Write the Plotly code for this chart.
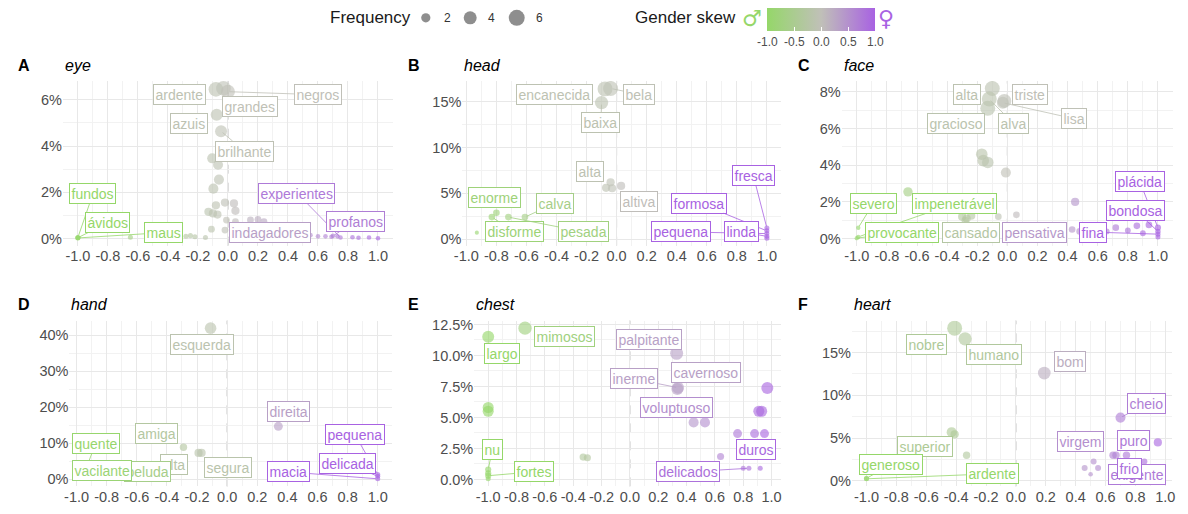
import numpy as np
import plotly.graph_objects as go
from plotly.colors import sample_colorscale

# ---------------- data ----------------
eye_word = ["ardente", "grandes", "negros", "azuis", "brilhante", "", "", "", "", "", "", "", "", "", "", "",
            "", "", "", "", "", "", "", "fundos", "ávidos", "maus", "", "", "", "", "", "", "", "", "", "",
            "experientes", "profanos", "", "", "", "", "indagadores", "", ""]
eye_skew = [-0.08, -0.03, 0.00, -0.075, -0.046, -0.105, -0.066, -0.06, -0.097, -0.02, 0.04, -0.08, 0.05, -0.13,
            -0.10, -0.07, -0.01, 0.05, 0.15, 0.20, 0.24, -0.11, -0.02, -1.0, -1.0, -1.0, -0.65, -0.28, -0.25,
            -0.22, -0.15, -0.45, 0.60, 0.65, 0.69, 0.73, 0.75, 0.70, 0.83, 0.87, 0.94, 1.0, 0.35, 0.10, 0.55]
eye_share = [6.45, 6.49, 6.35, 5.35, 4.64, 3.47, 3.19, 2.55, 2.16, 1.56, 1.52, 1.44, 1.20, 1.16, 1.09, 1.04,
             0.80, 0.73, 0.81, 0.83, 0.73, 0.41, 0.37, 0.05, 0.04, 0.03, 0.06, 0.10, 0.13, 0.08, 0.05, 0.04,
             0.10, 0.10, 0.08, 0.10, 0.05, 0.12, 0.06, 0.04, 0.05, 0.02, 0.25, 0.30, 0.15]
eye_freq = [5.1, 5.1, 4.6, 3.4, 3.4, 2.4, 2.4, 2.4, 2.4, 1.6, 1.6, 1.6, 1.6, 1.6, 1.6, 1.6,
            1.1, 1.1, 1.1, 1.1, 1.1, 1.1, 1.1, 0.6, 0.6, 0.6, 0.6, 0.6, 0.6, 0.6, 0.6, 0.6,
            0.5, 0.5, 0.5, 0.5, 0.5, 0.5, 0.5, 0.5, 0.5, 0.5, 0.8, 1.0, 0.5]

head_word = ["encanecida", "bela", "baixa", "", "alta", "altiva", "", "enorme", "disforme", "pesada", "calva", "",
             "fresca", "formosa", "pequena", "linda", ""]
head_skew = [-0.077, -0.04, -0.10, -0.04, -0.07, 0.03, -0.03, -0.80, -0.83, -0.72, -0.61, -0.93,
             1.0, 1.0, 1.0, 1.0, 1.0]
head_share = [16.40, 16.45, 14.9, 6.2, 5.6, 5.8, 5.55, 2.87, 2.4, 2.4, 2.4, 0.7, 1.2, 0.9, 0.6, 0.3, 0.1]
head_freq = [5.3, 5.3, 4.2, 1.6, 1.6, 1.6, 1.6, 1.05, 1.05, 1.05, 1.05, 0.4, 0.6, 0.6, 0.6, 0.6, 0.6]

face_word = ["alta", "alva", "triste", "gracioso", "lisa", "", "", "", "", "", "", "", "cansado", "", "", "", "",
             "severo", "impenetrável", "provocante", "pensativa", "", "", "", "", "", "", "plácida", "bondosa",
             "fina", "", ""]
face_skew = [-0.10, -0.12, -0.02, -0.13, -0.03, -0.17, -0.16, -0.13, -0.01, -0.66, 0.45, -0.30, -0.27, -0.24,
             -0.28, -0.06, 0.06, -0.99, -0.99, -1.0, 0.43, 0.48, 0.72, 0.80, 0.86, 0.90, 0.94, 1.0, 1.0, 1.0,
             1.0, 0.66]
face_share = [8.18, 7.6, 7.5, 7.1, 7.4, 4.6, 4.25, 4.15, 3.6, 2.55, 2.0, 1.2, 1.1, 1.25, 1.0, 1.2, 1.3,
              0.6, 0.1, 0.03, 0.5, 0.4, 0.6, 0.45, 0.7, 0.3, 0.75, 0.6, 0.4, 0.25, 0.1, 0.4]
face_freq = [5.3, 5.3, 4.6, 5.3, 3.4, 3.2, 3.2, 3.2, 2.4, 2.1, 1.6, 1.6, 1.6, 1.6, 1.3, 1.05, 1.05,
             0.45, 0.45, 0.45, 1.05, 1.05, 1.05, 0.8, 1.05, 0.8, 1.05, 0.9, 0.7, 0.6, 0.6, 0.8]

hand_word = ["esquerda", "amiga", "alta", "segura", "direita", "quente", "vacilante", "peluda",
             "pequena", "delicada", "macia"]
hand_skew = [-0.11, -0.29, -0.19, -0.17, 0.34, -0.95, -0.85, -0.60, 1.0, 1.0, 1.0]
hand_share = [42.0, 8.9, 7.3, 7.3, 14.7, 1.5, 0.8, 0.6, 1.3, 0.8, 0.1]
hand_freq = [3.2, 1.3, 1.6, 1.6, 1.9, 0.6, 0.6, 0.6, 0.6, 0.6, 0.6]

chest_word = ["mimosos", "largo", "", "", "nu", "", "fortes", "", "", "", "palpitante", "inerme", "cavernoso",
              "", "", "", "", "voluptuoso", "", "", "duros", "", "", "delicados", ""]
chest_skew = [-0.74, -1.0, -1.0, -1.0, -1.0, -1.0, -1.0, -1.0, -0.33, -0.30, 0.33, 0.34, 0.335, 0.97, 0.91,
              0.93, 0.45, 0.53, 0.76, 0.88, 0.95, 0.64, 0.80, 0.84, 0.92]
chest_share = [12.2, 11.5, 5.8, 5.5, 0.8, 0.5, 0.3, 0.05, 1.8, 1.75, 10.17, 7.4, 7.3, 7.37, 5.5, 5.5, 4.6, 4.6,
               3.7, 3.7, 3.7, 1.85, 0.9, 0.9, 0.9]
chest_freq = [4.2, 3.4, 2.9, 2.9, 0.9, 0.9, 0.9, 0.6, 1.2, 1.2, 4.0, 3.4, 3.4, 3.4, 2.9, 2.9, 2.4, 2.4,
              1.9, 1.9, 1.9, 1.2, 0.6, 0.6, 0.6]

heart_word = ["nobre", "humano", "", "bom", "cheio", "superior", "", "", "", "", "", "puro", "virgem", "", "", "",
              "frio", "exigente", "generoso", "ardente", ""]
heart_skew = [-0.41, -0.34, 0.0, 0.19, 0.70, -0.43, -0.41, -0.33, 0.95, 0.65, 0.67, 0.74, 0.52, 0.46, 0.50,
              0.55, 0.86, 0.75, -1.0, -1.0, 0.0]
heart_share = [17.85, 16.6, 14.8, 12.6, 7.4, 5.7, 5.45, 3.0, 4.5, 3.0, 3.0, 3.0, 2.27, 1.52, 0.78, 1.52, 2.27,
               2.0, 0.3, 0.25, 0.8]
heart_freq = [5.3, 4.2, 0.4, 3.8, 2.4, 2.4, 1.6, 1.3, 1.6, 1.3, 1.3, 1.3, 0.85, 0.85, 0.5, 0.85, 0.85,
              0.85, 0.6, 0.6, 0.4]

panel_titles = ["eye", "head", "face", "hand", "chest", "heart"]
panel_letters = ["A", "B", "C", "D", "E", "F"]
x_ticks = [-1.0, -0.8, -0.6, -0.4, -0.2, 0.0, 0.2, 0.4, 0.6, 0.8, 1.0]
y_ticks = {
    "eye": [0, 2, 4, 6], "head": [0, 5, 10, 15], "face": [0, 2, 4, 6, 8],
    "hand": [0, 10, 20, 30, 40], "chest": [0, 2.5, 5, 7.5, 10, 12.5], "heart": [0, 5, 10, 15],
}
y_tick_text = {
    "eye": ["0%", "2%", "4%", "6%"], "head": ["0%", "5%", "10%", "15%"],
    "face": ["0%", "2%", "4%", "6%", "8%"], "hand": ["0%", "10%", "20%", "30%", "40%"],
    "chest": ["0.0%", "2.5%", "5.0%", "7.5%", "10.0%", "12.5%"], "heart": ["0%", "5%", "10%", "15%"],
}
legend_freq = [2, 4, 6]

# ---------------- layout helpers (positions / styles) ----------------
W, H = 1188, 514
# label box centres in data units (skew, share); flag = draw connector segment
LABELS = {
    "eye": {"ardente": (-0.32, 6.22, 0), "negros": (0.60, 6.22, 1), "grandes": (0.15, 5.69, 0),
            "azuis": (-0.26, 4.98, 0), "brilhante": (0.11, 3.78, 1), "fundos": (-0.90, 1.93, 1),
            "ávidos": (-0.80, 0.69, 1), "maus": (-0.43, 0.26, 1), "experientes": (0.46, 1.97, 1),
            "profanos": (0.85, 0.73, 1), "indagadores": (0.28, 0.26, 0)},
    "head": {"encanecida": (-0.41, 15.8, 0), "bela": (0.15, 15.8, 1), "baixa": (-0.105, 12.7, 1),
             "alta": (-0.18, 7.37, 0), "altiva": (0.15, 4.13, 0), "enorme": (-0.81, 4.56, 0),
             "calva": (-0.41, 3.92, 1), "disforme": (-0.68, 0.79, 1), "pesada": (-0.22, 0.79, 1),
             "fresca": (0.91, 6.94, 1), "formosa": (0.55, 3.92, 1), "pequena": (0.43, 0.79, 1),
             "linda": (0.83, 0.79, 1)},
    "face": {"alta": (-0.27, 7.83, 0), "triste": (0.148, 7.83, 0), "lisa": (0.44, 6.54, 1),
             "gracioso": (-0.34, 6.27, 0), "alva": (0.04, 6.27, 1), "severo": (-0.89, 1.92, 1),
             "impenetrável": (-0.35, 1.92, 1), "provocante": (-0.70, 0.36, 1), "cansado": (-0.24, 0.36, 0),
             "pensativa": (0.18, 0.36, 0), "fina": (0.57, 0.36, 1), "plácida": (0.88, 3.10, 1),
             "bondosa": (0.85, 1.54, 1)},
    "hand": {"esquerda": (-0.165, 37.4, 0), "direita": (0.406, 18.8, 0), "amiga": (-0.47, 12.8, 0),
             "quente": (-0.873, 10.0, 1), "alta": (-0.35, 4.1, 0), "peluda": (-0.53, 2.1, 0),
             "vacilante": (-0.83, 2.3, 0), "segura": (0.008, 3.2, 0), "pequena": (0.85, 12.3, 1),
             "delicada": (0.80, 4.4, 1), "macia": (0.41, 2.0, 1)},
    "chest": {"mimosos": (-0.46, 11.56, 0), "largo": (-0.90, 10.19, 0), "palpitante": (0.135, 11.31, 0),
              "inerme": (0.03, 8.11, 1), "cavernoso": (0.54, 8.6, 0), "voluptuoso": (0.33, 5.8, 0),
              "nu": (-0.97, 2.45, 1), "fortes": (-0.68, 0.61, 1), "duros": (0.89, 2.45, 0),
              "delicados": (0.41, 0.61, 1)},
    "heart": {"nobre": (-0.60, 15.97, 0), "humano": (-0.145, 14.8, 0), "bom": (0.36, 13.98, 0),
              "cheio": (0.875, 9.02, 1), "superior": (-0.61, 4.08, 0), "virgem": (0.432, 4.58, 0),
              "puro": (0.79, 4.73, 0), "generoso": (-0.836, 1.93, 1), "ardente": (-0.155, 0.84, 1),
              "exigente": (0.81, 0.8, 0), "frio": (0.76, 1.43, 0)},
}
# plot-area pixel boxes (left, right, top, bottom)
PANEL_PX = [(55.4, 388.6, 78, 245), (458.6, 780.6, 78, 245), (841.5, 1175.9, 78, 245),
            (62, 388, 321, 489), (470.6, 780.5, 321, 489), (851.8, 1175.3, 321, 489)]
LETTER_X = [8, 402, 795, 8, 402, 795]
TITLE_Y = [62, 62, 62, 305, 305, 305]

CS = [[0.0, "#95d769"], [0.5, "#c0c0b8"], [1.0, "#a862e2"]]
FONT = "Liberation Sans, Arial, sans-serif"
GRID, MINOR = "#e8e8e8", "#f2f2f2"
TXT = "#4d4d4d"


def dia(f):
    return 6.5 * np.sqrt(np.asarray(f, dtype=float))


def col(s):
    return sample_colorscale(CS, [(s + 1) / 2])[0]


def expand(vals):
    lo, hi = min(vals), max(vals)
    p = 0.05 * (hi - lo)
    return [lo - p, hi + p]


panels = [
    ("eye", eye_word, eye_skew, eye_share, eye_freq),
    ("head", head_word, head_skew, head_share, head_freq),
    ("face", face_word, face_skew, face_share, face_freq),
    ("hand", hand_word, hand_skew, hand_share, hand_freq),
    ("chest", chest_word, chest_skew, chest_share, chest_freq),
    ("heart", heart_word, heart_skew, heart_share, heart_freq),
]

fig = go.Figure()
annotations, shapes = [], []
layout = {}

for i, (key, words, skew, share, freq) in enumerate(panels):
    n = i + 1
    xa = "x" if n == 1 else f"x{n}"
    ya = "y" if n == 1 else f"y{n}"
    xl = "xaxis" if n == 1 else f"xaxis{n}"
    yl = "yaxis" if n == 1 else f"yaxis{n}"
    L, R, T, B = PANEL_PX[i]

    fig.add_trace(go.Scatter(
        x=skew, y=share, mode="markers", xaxis=xa, yaxis=ya, showlegend=False, hoverinfo="skip",
        marker=dict(size=dia(freq), sizemode="diameter", color=skew, coloraxis="coloraxis",
                    opacity=0.62, line=dict(width=0)),
    ))

    yt = y_ticks[key]
    ystep = yt[1] - yt[0]
    layout[xl] = dict(
        domain=[L / W, R / W], range=expand(skew), anchor=ya,
        tickmode="array", tickvals=x_ticks, ticktext=[f"{v:.1f}" for v in x_ticks],
        showgrid=True, gridcolor=GRID, gridwidth=1, zeroline=False, showline=False, ticks="",
        tickfont=dict(size=14.5, color=TXT, family=FONT),
        minor=dict(tickmode="linear", tick0=0, dtick=0.1, showgrid=True, gridcolor=MINOR, gridwidth=0.8),
    )
    layout[yl] = dict(
        domain=[1 - B / H, 1 - T / H], range=expand(share), anchor=xa,
        tickmode="array", tickvals=yt, ticktext=y_tick_text[key],
        showgrid=True, gridcolor=GRID, gridwidth=1, zeroline=False, showline=False, ticks="",
        tickfont=dict(size=14.5, color=TXT, family=FONT),
        minor=dict(tickmode="linear", tick0=0, dtick=ystep / 2, showgrid=True, gridcolor=MINOR, gridwidth=0.8),
    )

    shapes.append(dict(type="line", xref=xa, yref=f"{ya} domain", x0=0, x1=0, y0=0, y1=1, layer="below",
                       line=dict(color="#b3b3b3", width=1, dash="dash")))

    annotations.append(dict(text=f"<b>{panel_letters[i]}</b>", xref="paper", yref="paper",
                            x=LETTER_X[i] / W, y=1 - TITLE_Y[i] / H, xanchor="left", yanchor="middle",
                            showarrow=False, font=dict(size=16, color="black", family=FONT)))
    annotations.append(dict(text=f"<i>{panel_titles[i]}</i>", xref="paper", yref="paper",
                            x=L / W, y=1 - TITLE_Y[i] / H, xanchor="left", yanchor="middle",
                            showarrow=False, font=dict(size=16, color="black", family=FONT)))

    idx = {w: j for j, w in enumerate(words) if w}
    for w, (lx, ly, seg) in LABELS[key].items():
        j = idx[w]
        c = col(skew[j])
        base = dict(text=w, xref=xa, yref=ya, font=dict(size=14, color=c, family=FONT),
                    bgcolor="white", bordercolor=c, borderwidth=1, borderpad=1.5)
        if seg:
            base.update(x=skew[j], y=share[j], ax=lx, ay=ly, axref=xa, ayref=ya, showarrow=True,
                        arrowhead=0, arrowwidth=0.8, arrowcolor=c, standoff=2)
        else:
            base.update(x=lx, y=ly, showarrow=False)
        annotations.append(base)

# ---------------- top legends ----------------
ly_px = 14
STRIP = 30
# overlay pixel-space axes (top strip only) for the size legend keys
layout["xaxis7"] = dict(domain=[0, 1], range=[0, W], visible=False, fixedrange=True, anchor="y7")
layout["yaxis7"] = dict(domain=[1 - STRIP / H, 1], range=[STRIP, 0], visible=False, fixedrange=True,
                        anchor="x7")
fig.add_trace(go.Scatter(
    x=[421.7, 466.5, 513.5], y=[ly_px] * 3, xaxis="x7", yaxis="y7", mode="markers",
    marker=dict(size=dia(legend_freq), color="#5e5e5e", line=dict(width=0)),
    showlegend=False, hoverinfo="skip", cliponaxis=False,
))
annotations.append(dict(text="Frequency", xref="paper", yref="paper", x=323 / W, y=1 - ly_px / H,
                        xanchor="left", yanchor="middle", showarrow=False,
                        font=dict(size=17, color="#1a1a1a", family=FONT)))
for tx, f in zip([443.5, 488, 536.5], legend_freq):
    annotations.append(dict(text=str(f), xref="paper", yref="paper", x=tx / W, y=1 - ly_px / H,
                            xanchor="center", yanchor="middle", showarrow=False,
                            font=dict(size=12, color="#333333", family=FONT)))
annotations.append(dict(text="Gender skew", xref="paper", yref="paper", x=631 / W, y=1 - ly_px / H,
                        xanchor="left", yanchor="middle", showarrow=False,
                        font=dict(size=17, color="#1a1a1a", family=FONT)))
annotations.append(dict(text="♂", xref="paper", yref="paper", x=751 / W, y=1 - 15 / H,
                        xanchor="center", yanchor="middle", showarrow=False,
                        font=dict(size=22, color="#95d769", family="DejaVu Sans")))
annotations.append(dict(text="♀", xref="paper", yref="paper", x=886 / W, y=1 - 15 / H,
                        xanchor="center", yanchor="middle", showarrow=False,
                        font=dict(size=22, color="#a862e2", family="DejaVu Sans")))

fig.update_layout(
    width=W, height=H, margin=dict(l=0, r=0, t=0, b=0),
    paper_bgcolor="white", plot_bgcolor="rgba(0,0,0,0)", showlegend=False,
    font=dict(family=FONT, color=TXT),
    coloraxis=dict(
        colorscale=CS, cmin=-1, cmax=1,
        colorbar=dict(orientation="h", x=821 / W, xanchor="center", y=1 - 4 / H, yanchor="top",
                      len=108, lenmode="pixels", thickness=23, thicknessmode="pixels",
                      tickvals=[-1, -0.5, 0, 0.5, 1], ticktext=["-1.0", "-0.5", "0.0", "0.5", "1.0"],
                      ticks="inside", tickcolor="white", ticklen=4, tickwidth=1,
                      tickfont=dict(size=12, color=TXT, family=FONT),
                      outlinewidth=0, xpad=0, ypad=0),
    ),
    annotations=annotations, shapes=shapes, **layout,
)

fig.write_html("out.html", config={"displayModeBar": False},
               post_script="document.body.style.margin='0';document.body.style.overflow='hidden';")
